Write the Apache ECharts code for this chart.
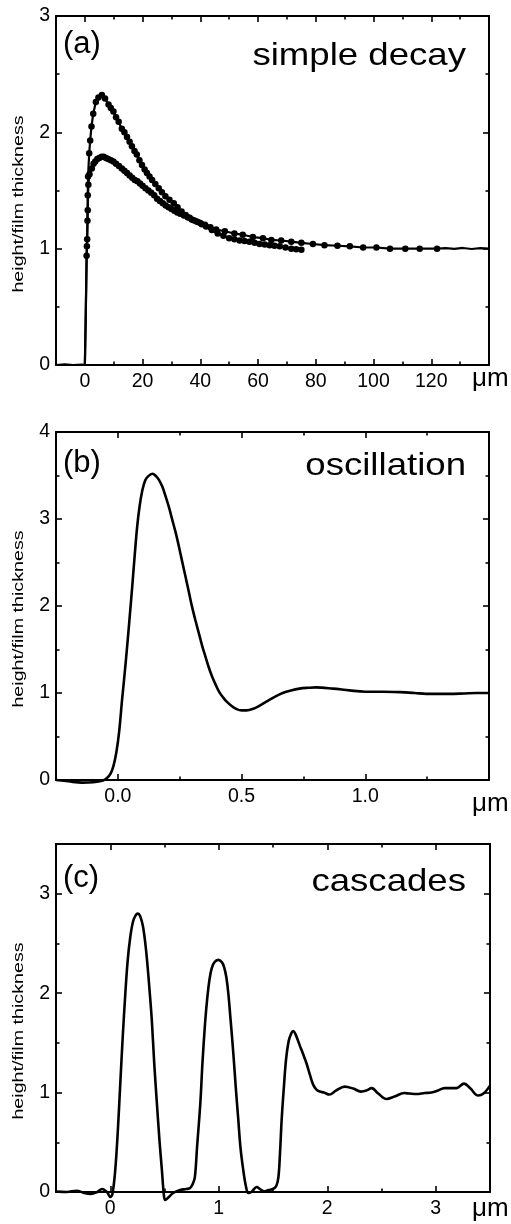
<!DOCTYPE html>
<html><head><meta charset="utf-8">
<script src="https://cdn.jsdelivr.net/npm/echarts@6/dist/echarts.min.js"></script>
<style>html,body{margin:0;padding:0;background:#fff}#c{width:511px;height:1224px}</style>
</head><body><div id="c"></div>
<script>
const FONT = '"Liberation Sans", Arial, Helvetica, sans-serif';

// ---------- Panel (a): simple decay ----------
const decayBaseline = [[-10,0],[-7,0.005],[-4,0],[-1,0.003],[0,0],[0.3,0.4]];
const decayLowDots = [[0.6,0.94],[0.8,1.08],[1.0,1.33],[1.2,1.55],[1.6,1.64],[2.4,1.69],[3.0,1.73],[3.6,1.75],[4.3,1.77],[5.0,1.78],[5.8,1.79],[6.5,1.79],[7.3,1.78],[8.1,1.77],[9.0,1.76],[9.9,1.75],[10.8,1.73],[11.8,1.71],[12.8,1.69],[13.7,1.67],[14.6,1.65],[15.5,1.63],[16.4,1.61],[17.3,1.59],[18.2,1.58],[19.1,1.56],[20,1.54],[21,1.52],[22,1.50],[23,1.48],[24,1.46],[25,1.43],[26,1.41],[27,1.39],[28,1.37],[29,1.355],[30,1.34],[31,1.325],[32,1.31],[33,1.30],[34.3,1.285],[35.6,1.27],[37,1.25],[38.5,1.235],[40,1.22],[41.6,1.205],[43.5,1.185],[45.5,1.165],[48.5,1.15],[51.8,1.13],[54.7,1.12],[58.2,1.10],[61.7,1.09],[64.6,1.075],[68,1.07],[71.5,1.06],[75,1.05],[79,1.04],[83,1.03],[87.5,1.025],[91.8,1.02],[96.4,1.01],[101,1.01],[105.7,1.0],[111,1.0],[116,1.0],[122,1.0]];
const decayLowTail = [[125,1.005],[128,0.998],[131,1.006],[134,0.997],[137,1.004],[140,1.0]];
const decayHighStart = [[0,0]];
const decayHighDots = [[0.7,1.02],[0.9,1.24],[1.0,1.46],[1.1,1.62],[1.5,1.82],[1.84,1.93],[2.3,2.05],[2.9,2.16],[3.8,2.26],[4.7,2.30],[5.9,2.32],[7.0,2.29],[8.2,2.24],[9.0,2.21],[9.9,2.18],[10.8,2.13],[11.7,2.09],[12.8,2.03],[13.7,2.00],[14.6,1.96],[15.5,1.92],[16.3,1.88],[17.2,1.84],[18,1.81],[18.9,1.76],[19.8,1.72],[20.7,1.68],[21.5,1.65],[22.4,1.62],[23.3,1.59],[24.4,1.555],[25.6,1.52],[26.7,1.485],[27.9,1.45],[29.3,1.42],[30.8,1.39],[32.1,1.355],[33.5,1.32],[34.9,1.29],[36.3,1.265],[37.7,1.245],[39.1,1.23],[40.5,1.21],[42,1.19],[44,1.16],[46,1.13],[48,1.11],[50,1.09],[51.8,1.08],[53.6,1.07],[55.3,1.065],[57,1.06],[58.8,1.05],[60.5,1.04],[62.3,1.035],[64,1.03],[65.7,1.025],[67.5,1.02],[69.5,1.01],[71.5,1.00],[73.2,0.995],[75,0.99]];

// ---------- Panel (b): oscillation ----------
const oscillation = [[-0.25,0],[-0.2,-0.015],[-0.145,-0.03],[-0.1,-0.025],[-0.06,-0.005],[-0.045,0.02],[-0.03,0.07],[-0.018,0.16],[-0.006,0.32],[0.005,0.55],[0.017,0.92],[0.028,1.24],[0.038,1.55],[0.048,1.88],[0.058,2.22],[0.068,2.58],[0.078,2.91],[0.088,3.15],[0.099,3.33],[0.11,3.44],[0.122,3.49],[0.14,3.52],[0.155,3.49],[0.166,3.45],[0.18,3.37],[0.193,3.26],[0.207,3.13],[0.22,2.99],[0.234,2.84],[0.247,2.68],[0.26,2.51],[0.274,2.33],[0.287,2.16],[0.30,1.99],[0.314,1.83],[0.328,1.68],[0.341,1.54],[0.355,1.41],[0.368,1.29],[0.382,1.18],[0.396,1.09],[0.41,1.01],[0.425,0.95],[0.44,0.90],[0.46,0.85],[0.48,0.815],[0.5,0.80],[0.52,0.80],[0.544,0.815],[0.57,0.85],[0.60,0.90],[0.63,0.95],[0.666,1.00],[0.70,1.03],[0.734,1.05],[0.77,1.06],[0.80,1.065],[0.87,1.05],[0.936,1.03],[1.0,1.015],[1.07,1.015],[1.14,1.01],[1.2,1.0],[1.247,0.99],[1.3,0.99],[1.34,0.99],[1.4,0.995],[1.45,1.0],[1.5,1.0]];

// ---------- Panel (c): cascades ----------
const cascades = [[-0.5,0.005],[-0.4,0.0],[-0.31,0.013],[-0.24,-0.01],[-0.18,-0.02],[-0.12,0.0],[-0.076,0.03],[-0.03,0.0],[0.0,-0.05],[0.02,-0.02],[0.046,0.22],[0.07,0.62],[0.092,1.08],[0.115,1.56],[0.138,1.98],[0.16,2.32],[0.184,2.56],[0.21,2.72],[0.235,2.785],[0.255,2.80],[0.275,2.775],[0.30,2.68],[0.32,2.53],[0.34,2.32],[0.36,2.06],[0.383,1.73],[0.405,1.3],[0.43,0.89],[0.455,0.5],[0.476,0.22],[0.495,-0.04],[0.506,-0.08],[0.54,-0.05],[0.58,-0.01],[0.644,0.02],[0.70,0.03],[0.736,0.04],[0.76,0.08],[0.78,0.15],[0.80,0.45],[0.83,0.89],[0.85,1.3],[0.874,1.70],[0.895,1.96],[0.915,2.14],[0.935,2.25],[0.96,2.31],[0.995,2.335],[1.03,2.31],[1.05,2.26],[1.07,2.16],[1.088,2.0],[1.11,1.72],[1.134,1.40],[1.157,1.05],[1.18,0.73],[1.2,0.45],[1.226,0.22],[1.25,0.06],[1.272,-0.01],[1.30,0.0],[1.35,0.05],[1.38,0.03],[1.417,0.006],[1.46,0.02],[1.50,0.03],[1.53,0.06],[1.55,0.15],[1.565,0.4],[1.58,0.73],[1.60,1.05],[1.62,1.33],[1.645,1.52],[1.67,1.60],[1.686,1.62],[1.71,1.58],[1.748,1.47],[1.78,1.38],[1.81,1.29],[1.84,1.18],[1.87,1.08],[1.90,1.03],[1.93,1.01],[1.97,1.0],[2.02,0.98],[2.08,1.02],[2.16,1.06],[2.24,1.04],[2.31,1.01],[2.36,1.02],[2.41,1.045],[2.47,0.99],[2.545,0.935],[2.62,0.96],[2.71,0.995],[2.76,0.99],[2.82,0.985],[2.9,0.995],[2.96,1.0],[3.02,1.02],[3.08,1.045],[3.19,1.045],[3.26,1.09],[3.32,1.04],[3.39,0.97],[3.44,0.99],[3.5,1.07]];

// ---------- axis ticks / labels ----------
const xRangeA = [-10,140], xMajorA = [0,20,40,60,80,100,120], xMinorA = [10,30,50,70,90,110,130], xLabelsA = [0,20,40,60,80,100,120];
const yRangeA = [0,3], yMajorA = [0,1,2,3], yMinorA = [0.5,1.5,2.5], yLabelsA = [0,1,2,3];
const xRangeB = [-0.25,1.5], xMajorB = [0,0.5,1.0], xMinorB = [0.25,0.75,1.25], xLabelsB = [0,0.5,1.0];
const yRangeB = [0,4], yMajorB = [0,1,2,3,4], yMinorB = [0.5,1.5,2.5,3.5], yLabelsB = [0,1,2,3,4];
const xRangeC = [-0.5,3.5], xMajorC = [0,1,2,3], xMinorC = [0.5,1.5,2.5], xLabelsC = [0,1,2,3];
const yRangeC = [0,3.5], yMajorC = [0,1,2,3], yMinorC = [0.5,1.5,2.5], yLabelsC = [0,1,2,3];

const panelLabels = ['(a)','(b)','(c)'];
const panelTitles = ['simple decay','oscillation','cascades'];
const yAxisTitle = 'height/film thickness';
const xUnit = 'μm';

// ---------- layout ----------
const grids = [
  {left:56, top:16, width:433, height:349},
  {left:56, top:432, width:433, height:348},
  {left:56, top:844, width:434, height:348}
];
const panels = [
  {x:xRangeA, xM:xMajorA, xm:xMinorA, xl:xLabelsA, xf:v=>String(Math.round(v)), y:yRangeA, yM:yMajorA, ym:yMinorA, yl:yLabelsA},
  {x:xRangeB, xM:xMajorB, xm:xMinorB, xl:xLabelsB, xf:v=>Number(v).toFixed(1), y:yRangeB, yM:yMajorB, ym:yMinorB, yl:yLabelsB},
  {x:xRangeC, xM:xMajorC, xm:xMinorC, xl:xLabelsC, xf:v=>String(Math.round(v)), y:yRangeC, yM:yMajorC, ym:yMinorC, yl:yLabelsC}
];

function mkAxis(gi, range, pos, ticks, tickLen, labels, fmt, showLine) {
  return {
    type:'value', gridIndex:gi, position:pos, min:range[0], max:range[1],
    axisLine:{show:showLine, onZero:false, lineStyle:{color:'#000', width:2}},
    axisTick:{show:true, inside:true, length:tickLen, customValues:ticks, lineStyle:{color:'#000', width:1.6}},
    axisLabel: labels ? {show:true, customValues:labels, formatter:fmt, color:'#000', fontSize:19.5, fontFamily:FONT, margin:(pos==='bottom'||pos==='top')?7:6}
                      : {show:false},
    splitLine:{show:false}, minorTick:{show:false}, minorSplitLine:{show:false}
  };
}

const xAxes = [], yAxes = [];
panels.forEach((p, gi) => {
  xAxes.push(mkAxis(gi, p.x, 'bottom', p.xM, 6, p.xl, p.xf, true));
  xAxes.push(mkAxis(gi, p.x, 'bottom', p.xm, 3.5, null, null, false));
  xAxes.push(mkAxis(gi, p.x, 'top', p.xM, 6, null, null, true));
  xAxes.push(mkAxis(gi, p.x, 'top', p.xm, 3.5, null, null, false));
  yAxes.push(mkAxis(gi, p.y, 'left', p.yM, 6, p.yl, v=>String(Math.round(v)), true));
  yAxes.push(mkAxis(gi, p.y, 'left', p.ym, 3.5, null, null, false));
  yAxes.push(mkAxis(gi, p.y, 'right', p.yM, 6, null, null, true));
  yAxes.push(mkAxis(gi, p.y, 'right', p.ym, 3.5, null, null, false));
});

const noDot = arr => arr.map(v => ({value:v, symbol:'none'}));
const series = [
  {type:'line', name:'decay low', xAxisIndex:0, yAxisIndex:0, clip:false,
   data: noDot(decayBaseline).concat(decayLowDots, noDot(decayLowTail)),
   symbol:'circle', symbolSize:6.5, showSymbol:true, showAllSymbol:true,
   itemStyle:{color:'#000'}, lineStyle:{color:'#000', width:2.2}, z:3},
  {type:'line', name:'decay high', xAxisIndex:0, yAxisIndex:0, clip:false,
   data: noDot(decayHighStart).concat(decayHighDots),
   symbol:'circle', symbolSize:6.5, showSymbol:true, showAllSymbol:true,
   itemStyle:{color:'#000'}, lineStyle:{color:'#000', width:2.2}, z:3},
  {type:'line', name:'oscillation', xAxisIndex:4, yAxisIndex:4, data:oscillation, clip:false,
   smooth:0.35, symbol:'none', lineStyle:{color:'#000', width:2.6}},
  {type:'line', name:'cascades', xAxisIndex:8, yAxisIndex:8, data:cascades, clip:false,
   smooth:0.35, symbol:'none', lineStyle:{color:'#000', width:2.6}}
];

const titleY = [57, 467, 883];
const labelY = [44, 463.5, 878.5];
const ynameY = [204, 619, 1031];
const unitY = [378.5, 803.5, 1208.5];
const graphic = [];
for (let i = 0; i < 3; i++) {
  graphic.push({type:'text', x:63, y:labelY[i], style:{text:panelLabels[i], fill:'#000', font:'31px '+FONT, textAlign:'left', textVerticalAlign:'middle'}});
  graphic.push({type:'text', x:466, y:titleY[i], scaleX:1.2, style:{text:panelTitles[i], fill:'#000', font:'30.5px '+FONT, textAlign:'right', textVerticalAlign:'middle'}});
  graphic.push({type:'text', x:19, y:ynameY[i], rotation:Math.PI/2, scaleX:1.27, style:{text:yAxisTitle, fill:'#000', font:'15.5px '+FONT, textAlign:'center', textVerticalAlign:'middle'}});
  graphic.push({type:'text', x:472, y:unitY[i], style:{text:xUnit, fill:'#000', font:'26px '+FONT, textAlign:'left', textVerticalAlign:'middle'}});
}

const chart = echarts.init(document.getElementById('c'), null, {renderer:'canvas'});
chart.setOption({
  animation:false,
  backgroundColor:'#fff',
  grid: grids.map(g => Object.assign({containLabel:false, outerBoundsMode:'none'}, g)),
  xAxis: xAxes,
  yAxis: yAxes,
  series: series,
  graphic: graphic
});
</script>
</body></html>
